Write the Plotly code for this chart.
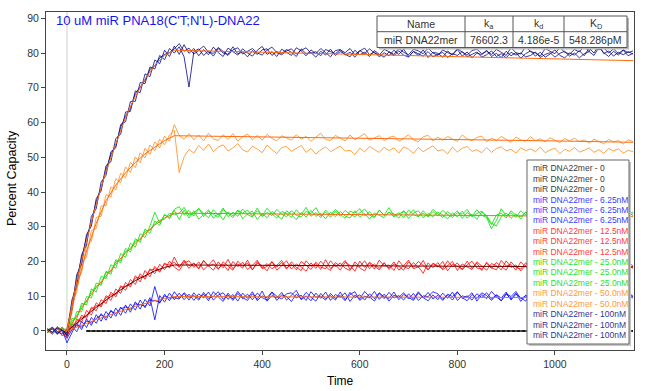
import plotly.graph_objects as go

# ---------------- data ----------------
time_s = list(range(-40, 1170, 10))          # sampling grid of the sensorgram (s)

c100_a = [0.6, -0.4, 0.9, 0.1, -0.6,
          6.2, 16.3, 19.1, 27.8, 30.2, 38.1, 40.3, 47.6, 48.7, 55.4, 56.6, 63.0, 63.2, 69.1, 68.6, 74.0, 73.2, 78.0, 76.9, 80.8, 79.0, 82.0,
          79.6, 82.4, 79.9,
          81.3, 79.2, 81.0, 79.5, 81.7, 80.1, 79.0, 81.4, 80.3, 79.4,
          81.2, 80.0, 79.1, 80.8, 81.9, 79.6, 80.4, 79.0, 81.1, 80.2,
          79.3, 81.5, 80.6, 79.2, 80.9, 79.8, 81.3, 80.1, 78.9, 80.7,
          81.0, 79.4, 80.2, 78.8, 80.6, 81.4, 79.5, 80.3, 78.9, 80.1,
          79.2, 80.8, 79.6, 81.1, 79.0, 80.4, 79.3, 80.9, 78.7, 80.2,
          79.9, 78.8, 80.6, 79.4, 81.0, 79.1, 80.3, 78.6, 80.0, 79.5,
          80.8, 79.0, 79.9, 78.7, 80.5, 79.2, 80.1, 78.5, 79.8, 80.6,
          79.1, 80.2, 78.8, 79.7, 80.9, 79.3, 78.6, 80.0, 79.4, 80.7,
          79.2, 81.4, 80.0, 82.3, 79.8, 80.6, 79.1, 80.2, 79.5, 80.4,
          79.7]
c100_b = [-0.3, 0.7, -0.8, 0.4, -1.2,
          8.9, 13.1, 22.0, 24.7, 33.0, 35.2, 42.9, 44.8, 51.6, 52.7, 59.4, 60.2, 66.0, 66.1, 71.5, 71.2, 76.0, 75.4, 79.3, 78.1, 81.3, 80.0,
          81.8, 78.9, 70.2,
          80.4, 81.2, 79.3, 80.6, 79.1, 81.3, 80.0, 79.6, 81.8, 79.8,
          80.3, 78.9, 80.7, 79.6, 80.9, 81.2, 79.3, 80.4, 79.9, 81.0,
          80.2, 79.0, 81.2, 79.8, 80.1, 78.8, 80.5, 79.4, 81.1, 79.3,
          80.4, 79.7, 78.9, 80.8, 79.5, 80.2, 79.0, 80.7, 79.6, 78.8,
          80.3, 79.2, 80.6, 79.4, 78.8, 80.5, 79.7, 79.1, 80.4, 78.9,
          79.6, 80.2, 78.7, 79.8, 79.3, 80.4, 78.9, 79.7, 80.3, 78.8,
          79.5, 80.6, 79.0, 79.8, 78.6, 80.2, 79.4, 80.0, 78.9, 79.3,
          80.3, 78.7, 79.6, 80.1, 78.8, 79.9, 80.5, 79.1, 80.0, 78.6,
          79.8, 80.4, 79.3, 81.6, 80.1, 79.0, 80.5, 79.4, 80.8, 79.2,
          79.9]
c100_c = [0.2, 1.1, -0.2, -0.9, 0.4,
          7.0, 15.0, 21.3, 26.9, 31.0, 37.3, 41.1, 46.5, 50.8, 53.3, 58.6, 61.9, 64.0, 68.3, 70.2, 72.1, 75.3, 76.3, 78.6, 79.6, 80.1, 81.2,
          82.7, 80.5, 81.4,
          79.7, 80.8, 82.0, 80.2, 79.9, 81.6, 80.4, 79.3, 80.9, 81.5,
          79.7, 80.6, 81.3, 80.0, 79.4, 80.8, 81.7, 80.1, 79.5, 80.6,
          81.2, 79.7, 80.8, 81.5, 79.9, 80.4, 79.2, 81.0, 80.3, 79.8,
          80.9, 80.1, 81.3, 79.5, 80.7, 79.8, 81.2, 80.0, 79.4, 81.0,
          80.4, 79.6, 81.3, 80.2, 79.5, 81.1, 80.6, 79.8, 81.4, 80.0,
          79.3, 80.9, 80.1, 79.6, 81.2, 80.3, 79.4, 80.7, 81.1, 79.8,
          80.5, 79.6, 81.0, 80.2, 79.3, 81.5, 80.1, 79.7, 81.9, 80.4,
          80.0, 79.1, 81.3, 80.5, 79.8, 81.6, 80.2, 79.7, 81.0, 80.3,
          81.9, 80.4, 83.1, 80.9, 81.5, 80.0, 81.2, 79.8, 80.9, 80.1,
          80.6]

c50_a = [-0.5, 0.8, -0.2, 1.0, -0.4,
         5.1, 14.0, 16.9, 24.6, 25.8, 32.7, 33.0, 39.2, 38.6, 43.8, 42.7, 47.2, 45.6, 50.1, 48.4, 52.6, 50.8, 54.4, 52.7, 56.1, 54.6, 59.4,
         56.3, 55.2, 56.8,
         55.0, 56.4, 54.7, 56.9, 55.3, 54.8, 56.5, 55.1, 56.8, 54.6,
         55.9, 56.7, 55.0, 56.3, 54.9, 56.6, 55.4, 54.7, 56.2, 55.6,
         54.9, 56.5, 55.2, 56.0, 54.6, 55.8, 56.9, 55.1, 54.8, 56.3,
         55.5, 54.7, 56.4, 55.0, 55.9, 56.8, 54.9, 55.6, 56.2, 54.8,
         55.7, 56.1, 54.6, 55.4, 56.5, 55.0, 54.5, 55.9, 56.3, 54.7,
         55.8, 54.9, 56.0, 55.2, 54.6, 56.4, 55.3, 54.8, 55.7, 56.1,
         54.5, 55.5, 54.8, 56.0, 55.1, 54.3, 55.8, 55.0, 54.6, 55.9,
         54.8, 55.3, 54.4, 55.6, 54.9, 54.2, 55.4, 54.7, 55.5, 54.5,
         55.0, 54.1, 55.2, 54.6, 53.9, 55.1, 54.4, 54.8, 53.8, 55.0,
         54.5]
c50_b = [0.4, -0.7, 0.6, -0.3, 0.9,
         7.8, 11.2, 19.6, 21.4, 28.9, 29.5, 36.0, 36.1, 41.5, 40.6, 45.4, 44.1, 48.5, 47.0, 51.3, 49.8, 53.5, 51.9, 55.2, 53.6, 56.4, 57.8,
         45.6, 50.1, 52.3,
         51.2, 53.4, 52.0, 53.8, 51.6, 52.9, 53.6, 51.8, 52.7, 53.9,
         52.1, 51.5, 53.2, 52.4, 51.3, 53.5, 52.2, 51.0, 52.8, 53.1,
         51.7, 52.6, 53.4, 51.4, 52.5, 50.9, 52.1, 53.0, 51.6, 52.4,
         53.2, 51.8, 52.0, 50.8, 52.6, 51.5, 53.1, 52.2, 51.4, 52.9,
         51.9, 52.7, 51.2, 53.0, 52.3, 51.1, 52.8, 51.6, 52.5, 53.3,
         51.8, 52.2, 51.0, 52.9, 51.5, 52.6, 53.1, 51.7, 52.2, 51.3,
         52.8, 51.4, 52.5, 53.0, 51.8, 52.3, 51.2, 52.7, 51.9, 52.4,
         51.6, 52.9, 51.3, 52.1, 52.6, 51.0, 52.3, 51.7, 52.8, 51.5,
         52.0, 52.7, 51.4, 52.2, 51.1, 52.5, 51.8, 52.4, 51.2, 52.0,
         51.6]

c25_a = [0.8, -0.5, 1.3, 0.2, -1.1,
         3.6, 3.4, 8.0, 7.5, 12.1, 11.2, 15.8, 15.0, 19.1, 18.0, 22.3, 21.2, 25.3, 24.1, 28.0, 26.9, 30.2, 34.2, 31.0, 33.4, 32.6, 35.0,
         35.8, 33.4, 34.7,
         33.1, 35.2, 33.8, 32.6, 34.9, 33.3, 35.4, 32.9, 34.2, 33.0,
         35.1, 33.5, 32.8, 34.6, 33.2, 35.3, 33.7, 32.5, 34.4, 33.8,
         32.7, 34.9, 33.4, 35.6, 33.0, 34.1, 32.6, 34.8, 33.3, 35.0,
         33.6, 32.4, 34.5, 33.9, 35.2, 33.1, 34.3, 32.8, 34.7, 33.4,
         35.5, 33.2, 34.0, 32.6, 34.8, 33.5, 32.9, 34.6, 33.1, 35.0,
         33.7, 32.7, 34.4, 33.2, 34.6, 32.4, 34.1, 33.0, 34.9, 33.3,
         32.6, 29.4, 31.8, 35.2, 33.1, 34.0, 32.7, 34.6, 33.4, 35.1,
         33.0, 34.3, 32.8, 34.7, 33.5, 32.4, 34.2, 33.1, 35.0, 33.6,
         32.9, 34.4, 33.3, 35.1, 33.7, 32.8, 34.5, 33.2, 34.0, 33.5,
         34.3]
c25_b = [-0.6, 1.0, -0.3, 0.7, 0.3,
         1.2, 5.6, 5.5, 9.9, 9.5, 13.8, 13.1, 17.2, 16.3, 20.5, 19.6, 23.8, 22.7, 26.6, 25.5, 29.4, 28.1, 31.7, 30.4, 33.6, 32.3, 34.7,
         32.1, 34.8, 32.5,
         34.6, 32.2, 33.5, 34.9, 32.4, 33.9, 32.0, 34.3, 33.1, 34.8,
         32.3, 33.7, 34.5, 32.1, 33.8, 32.6, 34.4, 33.3, 32.2, 34.6,
         33.5, 32.0, 34.1, 32.8, 34.7, 33.0, 33.9, 32.3, 34.2, 32.9,
         34.4, 33.1, 32.5, 34.6, 32.7, 33.8, 32.2, 34.0, 33.3, 32.6,
         34.3, 32.8, 33.6, 34.5, 32.4, 33.9, 34.6, 32.6, 33.8, 32.9,
         34.2, 33.4, 32.3, 34.0, 32.8, 34.5, 32.5, 33.6, 32.1, 34.3,
         33.2, 31.0, 30.2, 32.9, 34.0, 32.4, 33.7, 32.2, 34.3, 32.8,
         34.1, 32.6, 33.9, 32.3, 34.5, 33.2, 32.0, 33.8, 32.7, 34.2,
         33.4, 32.5, 34.0, 32.9, 33.6, 34.4, 32.6, 33.7, 32.8, 34.6,
         33.1]
c25_c = [0.3, 0.6, -0.9, 1.2, -0.3,
         2.8, 4.1, 7.3, 8.3, 11.4, 12.9, 13.6, 16.8, 17.0, 19.9, 20.3, 22.9, 23.5, 25.9, 26.2, 28.7, 29.0, 30.9, 31.9, 32.2, 33.9, 33.4,
         33.9, 35.6, 33.3,
         34.0, 35.3, 32.9, 34.4, 33.6, 32.7, 35.0, 33.8, 32.6, 34.7,
         33.9, 34.8, 33.0, 35.4, 32.9, 34.1, 33.2, 35.0, 33.6, 32.9,
         34.6, 33.3, 32.8, 34.4, 33.8, 35.5, 33.1, 34.2, 32.7, 34.5,
         33.0, 34.7, 33.6, 32.9, 34.0, 35.1, 33.4, 32.6, 34.8, 33.2,
         34.1, 33.7, 32.5, 34.6, 33.3, 34.9, 33.0, 33.9, 32.8, 34.4,
         33.1, 34.7, 33.5, 32.7, 34.0, 33.6, 35.0, 32.9, 33.8, 34.5,
         32.8, 30.6, 33.4, 33.9, 32.5, 34.6, 33.3, 32.9, 34.1, 33.6,
         32.7, 34.8, 33.4, 34.0, 32.6, 34.5, 33.0, 34.3, 32.8, 33.9,
         34.7, 33.1, 32.6, 34.2, 33.5, 32.9, 34.8, 33.3, 34.1, 32.7,
         33.9]

c12_a = [0.5, -0.8, 0.9, -1.4, -0.6,
         0.2, 3.4, 2.5, 5.9, 4.6, 8.1, 6.9, 10.2, 8.8, 12.1, 10.8, 14.0, 12.6, 15.9, 14.1, 17.4, 15.6, 18.6, 16.9, 19.6, 18.1, 21.3,
         18.5, 20.1, 18.0,
         19.6, 17.8, 20.3, 18.7, 17.5, 19.9, 18.2, 20.6, 17.9, 19.3,
         18.1, 20.4, 17.6, 19.5, 18.8, 17.3, 20.0, 18.4, 19.7, 17.8,
         19.9, 18.3, 17.4, 20.2, 18.6, 19.4, 17.7, 20.5, 18.0, 19.1,
         17.5, 19.8, 18.9, 17.2, 20.1, 18.3, 19.6, 17.8, 20.4, 18.7,
         19.0, 17.4, 20.2, 18.5, 17.9, 19.7, 18.2, 20.3, 17.6, 19.4,
         18.4, 20.0, 17.3, 19.2, 18.6, 17.8, 20.1, 18.0, 19.5, 17.4,
         19.8, 18.2, 17.6, 20.3, 18.7, 19.1, 17.5, 19.9, 18.4, 17.2,
         19.6, 18.1, 20.4, 17.7, 19.0, 18.5, 17.1, 20.2, 18.3, 19.4,
         17.8, 20.0, 18.6, 17.4, 19.7, 18.2, 21.6, 18.8, 19.3, 17.9,
         18.6]
c12_b = [-0.4, 0.7, -1.0, 0.3, -1.7,
         2.0, 1.5, 4.6, 3.6, 6.8, 5.8, 9.0, 7.9, 11.2, 9.8, 13.0, 11.7, 14.8, 13.4, 16.5, 14.9, 17.9, 16.5, 19.2, 17.6, 20.1, 18.4,
         17.4, 19.6, 20.2,
         18.3, 19.9, 17.6, 18.9, 20.5, 18.0, 19.2, 17.4, 20.0, 18.5,
         19.8, 17.7, 18.9, 20.4, 17.9, 18.6, 19.9, 17.5, 18.8, 20.2,
         17.8, 19.3, 18.4, 17.2, 19.6, 18.0, 20.1, 18.5, 17.4, 19.7,
         18.6, 20.3, 17.7, 19.1, 18.2, 17.3, 19.8, 18.7, 17.6, 19.5,
         18.1, 19.9, 17.5, 18.8, 20.4, 17.9, 18.5, 16.6, 19.6, 18.2,
         19.7, 17.6, 18.9, 20.0, 17.4, 19.3, 18.4, 17.7, 19.9, 18.6,
         17.5, 19.4, 18.8, 17.6, 20.2, 18.3, 19.0, 17.3, 18.9, 19.8,
         18.0, 17.4, 19.5, 18.6, 20.1, 17.8, 19.2, 18.4, 17.5, 19.7,
         18.9, 17.6, 19.3, 20.0, 18.1, 19.6, 17.8, 20.3, 18.5, 19.1,
         18.0]
c12_c = [0.2, -0.3, 0.4, 0.8, 0.1,
         0.9, 2.8, 3.9, 4.2, 6.4, 7.3, 7.4, 9.6, 10.4, 10.5, 12.6, 12.9, 13.3, 15.2, 15.6, 15.5, 17.5, 17.9, 17.2, 19.3, 19.0, 19.8,
         18.3, 20.4, 18.8,
         19.4, 18.1, 20.2, 18.6, 19.3, 17.7, 19.9, 18.8, 17.5, 20.1,
         18.6, 19.5, 17.6, 20.0, 18.2, 19.4, 17.9, 18.9, 20.3, 18.1,
         19.2, 17.6, 20.0, 18.9, 17.7, 19.8, 18.4, 17.9, 20.2, 18.5,
         19.6, 18.1, 17.4, 19.9, 18.5, 20.2, 17.9, 19.3, 18.0, 19.7,
         17.7, 19.3, 18.6, 17.5, 19.9, 18.3, 20.0, 18.9, 17.6, 19.5,
         18.7, 17.9, 20.2, 18.4, 19.6, 17.6, 19.0, 20.1, 18.1, 17.8,
         19.5, 18.0, 19.7, 18.6, 17.5, 19.9, 18.3, 17.8, 19.6, 18.4,
         17.9, 19.8, 18.2, 19.3, 17.6, 20.1, 18.6, 17.9, 19.4, 18.1,
         19.9, 18.3, 17.7, 19.5, 18.4, 20.4, 17.9, 19.1, 18.2, 19.8,
         18.7]

c6_a = [0.6, -0.5, 1.2, 0.3, -3.4,
        -0.6, 2.3, 0.4, 3.5, 1.6, 4.7, 2.8, 5.6, 3.7, 6.6, 4.5, 7.5, 5.4, 8.4, 6.3, 9.1, 7.2, 12.8, 8.0, 10.6, 8.7, 11.3,
        9.4, 10.8, 8.9,
        11.0, 9.3, 10.6, 8.7, 11.3, 9.8, 8.5, 10.9, 9.2, 11.4,
        9.6, 8.8, 10.7, 9.1, 11.5, 8.6, 10.2, 9.5, 11.1, 8.9,
        10.4, 11.7, 9.0, 10.1, 8.7, 10.9, 9.4, 11.2, 8.8, 10.5,
        9.7, 11.0, 8.5, 10.3, 9.2, 11.4, 9.8, 8.6, 10.8, 9.3,
        11.1, 9.5, 10.2, 8.9, 10.7, 9.1, 11.3, 9.6, 8.7, 10.4,
        9.0, 10.9, 9.4, 11.2, 8.8, 10.1, 9.7, 11.0, 8.6, 10.5,
        9.3, 11.4, 9.8, 8.7, 10.6, 9.2, 10.9, 8.5, 10.3, 9.6,
        11.1, 9.0, 10.4, 8.8, 10.8, 9.5, 11.3, 9.1, 10.0, 8.7,
        10.6, 9.4, 11.0, 9.7, 8.9, 10.5, 9.3, 11.2, 9.8, 10.1,
        9.5]
c6_b = [-0.4, 0.9, -0.7, 1.1, -1.5,
        1.4, -0.2, 2.8, 1.0, 3.9, 2.2, 5.0, 3.1, 6.0, 4.2, 6.9, 5.1, 7.8, 6.0, 8.9, 6.7, 9.6, 3.2, 10.2, 8.3, 10.9, 9.0,
        10.9, 9.0, 10.6,
        8.8, 10.7, 9.5, 11.2, 8.9, 10.3, 11.0, 9.1, 10.5, 8.6,
        10.9, 9.4, 11.3, 8.7, 10.1, 9.6, 11.2, 8.8, 10.4, 9.9,
        8.5, 10.6, 9.2, 11.1, 9.7, 8.6, 10.8, 9.3, 10.2, 8.9,
        11.2, 9.0, 10.5, 11.3, 8.8, 10.0, 9.5, 11.4, 9.1, 10.6,
        8.6, 10.3, 9.7, 11.0, 9.2, 10.8, 8.8, 10.1, 9.9, 11.3,
        10.7, 9.1, 10.3, 8.9, 11.1, 9.6, 8.7, 10.5, 9.4, 11.0,
        10.2, 8.8, 10.4, 9.5, 11.2, 8.9, 10.6, 9.7, 8.6, 10.9,
        9.4, 10.7, 8.9, 11.0, 9.3, 10.2, 8.6, 10.8, 9.7, 11.2,
        9.0, 10.5, 8.7, 10.3, 9.6, 11.1, 9.2, 10.0, 8.8, 10.4,
        9.9]
c6_c = [0.2, -0.9, 0.5, -0.2, -2.1,
        0.3, 1.6, 1.1, 2.9, 2.3, 3.6, 4.6, 3.9, 5.7, 5.0, 6.4, 6.9, 6.2, 7.8, 7.6, 7.1, 8.9, 8.8, 8.2, 10.1, 9.5, 9.6,
        9.2, 11.0, 9.7,
        10.2, 8.9, 11.1, 9.4, 10.0, 11.3, 9.1, 10.4, 8.8, 10.8,
        9.3, 10.6, 9.0, 10.9, 9.6, 8.9, 11.2, 10.0, 9.2, 10.7,
        11.0, 9.5, 10.3, 8.8, 11.3, 9.7, 10.0, 8.9, 10.8, 9.4,
        10.2, 8.7, 11.1, 9.6, 10.4, 8.9, 10.7, 9.3, 11.0, 9.8,
        9.4, 11.2, 9.0, 10.5, 9.7, 8.8, 10.9, 9.5, 11.1, 9.2,
        10.3, 8.8, 10.6, 9.9, 11.3, 9.4, 10.1, 8.9, 10.7, 9.6,
        11.0, 9.2, 10.4, 8.7, 10.8, 9.9, 11.4, 9.3, 10.1, 8.8,
        10.5, 9.6, 11.2, 9.1, 10.3, 8.8, 10.9, 9.5, 10.2, 9.0,
        10.8, 9.7, 10.1, 11.0, 9.3, 10.6, 8.9, 10.4, 9.6, 11.1,
        10.0]

zero_time = [40, 1160]
zero_vals = [0.0, 0.0]

# fitted curves
fit_time = [0, 20, 40, 60, 80, 100, 120, 140, 160, 180, 200, 220, 400, 600, 800, 1000, 1160]
fit_100 = [0, 14.5, 26, 36.5, 46, 54, 61.5, 67.5, 72.5, 76.5, 79.3, 80.8, 80.2, 79.5, 78.9, 78.3, 77.8]
fit_50 = [0, 12.5, 23, 31, 37.5, 42, 45.5, 48.5, 51, 53, 54.8, 56.2, 55.9, 55.5, 55.1, 54.7, 54.3]
fit_25 = [0, 4.5, 8.7, 12.5, 16, 19.2, 22.5, 25.3, 28, 30.5, 32.5, 33.9, 33.7, 33.5, 33.3, 33.1, 32.9]
fit_12 = [0, 2.3, 4.6, 6.8, 8.9, 10.9, 12.8, 14.5, 16, 17.3, 18.3, 19.0, 18.9, 18.8, 18.6, 18.5, 18.4]
fit_6 = [0, 1.0, 2.2, 3.3, 4.3, 5.3, 6.2, 7.1, 7.9, 8.7, 9.4, 9.9, 9.9, 9.8, 9.7, 9.6, 9.6]

legend_names = ["miR DNA22mer - 0", "miR DNA22mer - 0", "miR DNA22mer - 0",
                "miR DNA22mer - 6.25nM", "miR DNA22mer - 6.25nM", "miR DNA22mer - 6.25nM",
                "miR DNA22mer - 12.5nM", "miR DNA22mer - 12.5nM", "miR DNA22mer - 12.5nM",
                "miR DNA22mer - 25.0nM", "miR DNA22mer - 25.0nM", "miR DNA22mer - 25.0nM",
                "miR DNA22mer - 50.0nM", "miR DNA22mer - 50.0nM",
                "miR DNA22mer - 100nM", "miR DNA22mer - 100nM", "miR DNA22mer - 100nM"]
legend_keys = ["0"] * 3 + ["6.25"] * 3 + ["12.5"] * 3 + ["25"] * 3 + ["50"] * 2 + ["100"] * 3

table_header = ["Name", "k<sub>a</sub>", "k<sub>d</sub>", "K<sub>D</sub>"]
table_row = ["miR DNA22mer", "76602.3", "4.186e-5", "548.286pM"]
title_text = "10 uM miR PNA18(C'T;N'L)-DNA22"

x_ticks = [0, 200, 400, 600, 800, 1000]
y_ticks = [0, 10, 20, 30, 40, 50, 60, 70, 80, 90]

# ---------------- styling ----------------
FONT = "Liberation Sans, Arial, sans-serif"
line_col = {"0": "#1a1a1a", "6.25": "rgba(0,0,255,0.78)", "12.5": "rgba(255,0,0,0.78)",
            "25": "rgba(0,225,0,0.8)", "50": "rgba(255,145,40,0.85)", "100": "rgba(0,0,128,0.78)"}
text_col = {"0": "#3a3a3a", "6.25": "#3c3cff", "12.5": "#ff3c3c", "25": "#2ee02e",
            "50": "#ff9a3c", "100": "#35358f"}

series_vals = [zero_vals, zero_vals, zero_vals,
               c6_a, c6_b, c6_c, c12_a, c12_b, c12_c,
               c25_a, c25_b, c25_c, c50_a, c50_b,
               c100_a, c100_b, c100_c]

fig = go.Figure()
for name, key, ys in zip(legend_names, legend_keys, series_vals):
    if key == "0":
        fig.add_trace(go.Scatter(x=zero_time, y=ys, mode="lines", name=name,
                                 line=dict(color=line_col[key], width=1.6, dash="4px,1px")))
    else:
        fig.add_trace(go.Scatter(x=time_s, y=ys, mode="lines", name=name,
                                 line=dict(color=line_col[key], width=1)))

for fy, fc in [(fit_6, "#ff6a10"), (fit_12, "#6a0000"), (fit_25, "#ff6a10"),
               (fit_50, "#ff6a10"), (fit_100, "#ff6a10")]:
    fig.add_trace(go.Scatter(x=fit_time, y=fy, mode="lines", showlegend=False,
                             line=dict(color=fc, width=1)))

# pixel -> paper helpers (plot area spans x 46..634, y 12..350)
W, H = 645, 391
PL, PT, PR, PB = 46, 12, 634, 350
def px(x):
    return (x - PL) / (PR - PL)
def py(y):
    return (PB - y) / (PB - PT)

shapes = []
annotations = []

# vertical marker at injection start
shapes.append(dict(type="line", xref="x", yref="paper", x0=0, x1=0, y0=0, y1=1,
                   line=dict(color="#cfcfcf", width=1), layer="below"))

# results table
TL, TR, TT, TB = 377, 627, 16, 47.5
col_edges = [377, 465, 513, 564, 627]
shapes.append(dict(type="rect", xref="paper", yref="paper", x0=px(TL + 2), x1=px(TR + 2),
                   y0=py(TB + 2), y1=py(TT + 2), fillcolor="#b8b8b8", line=dict(width=0)))
shapes.append(dict(type="rect", xref="paper", yref="paper", x0=px(TL), x1=px(TR),
                   y0=py(TB), y1=py(TT), fillcolor="white", line=dict(color="#555555", width=1)))
shapes.append(dict(type="line", xref="paper", yref="paper", x0=px(TL), x1=px(TR),
                   y0=py(31.7), y1=py(31.7), line=dict(color="#555555", width=1)))
for ce in col_edges[1:-1]:
    shapes.append(dict(type="line", xref="paper", yref="paper", x0=px(ce), x1=px(ce),
                       y0=py(TB), y1=py(TT), line=dict(color="#555555", width=1)))
for i in range(4):
    cx = (col_edges[i] + col_edges[i + 1]) / 2
    annotations.append(dict(xref="paper", yref="paper", x=px(cx), y=py(24), text=table_header[i],
                            showarrow=False, xanchor="center", yanchor="middle",
                            font=dict(family=FONT, size=10.5, color="#333333")))
    annotations.append(dict(xref="paper", yref="paper", x=px(cx), y=py(39.6), text=table_row[i],
                            showarrow=False, xanchor="center", yanchor="middle",
                            font=dict(family=FONT, size=10.5, color="#333333")))

# legend box (text-only entries, as in the reference)
LL, LR, LT, LB = 527, 629, 160, 344
shapes.append(dict(type="rect", xref="paper", yref="paper", x0=px(LL + 2), x1=px(LR + 2),
                   y0=py(LB + 2), y1=py(LT + 2), fillcolor="#c4c4c4", line=dict(width=0)))
shapes.append(dict(type="rect", xref="paper", yref="paper", x0=px(LL), x1=px(LR),
                   y0=py(LB), y1=py(LT), fillcolor="white", line=dict(color="#666666", width=1)))
row_y0 = 168.3
row_dy = (335.0 - 168.3) / (len(legend_names) - 1)
for i, (nm, key) in enumerate(zip(legend_names, legend_keys)):
    annotations.append(dict(xref="paper", yref="paper", x=px(531), y=py(row_y0 + i * row_dy),
                            text=nm, showarrow=False, xanchor="left", yanchor="middle",
                            font=dict(family=FONT, size=8.5, color=text_col[key])))

# title and axis titles
annotations.append(dict(xref="paper", yref="paper", x=px(54), y=py(20.7), text=title_text,
                        showarrow=False, xanchor="left", yanchor="middle",
                        font=dict(family=FONT, size=13, color="#1414f0")))
annotations.append(dict(xref="paper", yref="paper", x=px(340), y=py(381), text="Time",
                        showarrow=False, xanchor="center", yanchor="middle",
                        font=dict(family=FONT, size=12, color="#000000")))
annotations.append(dict(xref="paper", yref="paper", x=px(12), y=py(178), text="Percent Capacity",
                        showarrow=False, xanchor="center", yanchor="middle", textangle=-90,
                        font=dict(family=FONT, size=12.5, color="#000000")))

fig.update_layout(
    width=W, height=H,
    margin=dict(l=PL, r=W - PR, t=PT, b=H - PB),
    paper_bgcolor="white", plot_bgcolor="white",
    showlegend=False, hovermode=False,
    shapes=shapes, annotations=annotations,
    xaxis=dict(range=[-43, 1162], tickvals=x_ticks, showgrid=False, zeroline=False,
               showline=True, linecolor="#444444", linewidth=1, mirror=True,
               ticks="outside", ticklen=4, tickcolor="#444444",
               tickfont=dict(family=FONT, size=10.5, color="#333333")),
    yaxis=dict(range=[-5.47, 91.8], tickvals=y_ticks, showgrid=False, zeroline=False,
               showline=True, linecolor="#444444", linewidth=1, mirror=True,
               ticks="outside", ticklen=4, tickcolor="#444444",
               tickfont=dict(family=FONT, size=10.5, color="#333333")),
)

# remove the default 8px page margin so the figure fills the 645x391 window exactly
fig.write_html("out.html", config={"displayModeBar": False},
               post_script="document.body.style.margin='0';document.body.style.overflow='hidden';")
